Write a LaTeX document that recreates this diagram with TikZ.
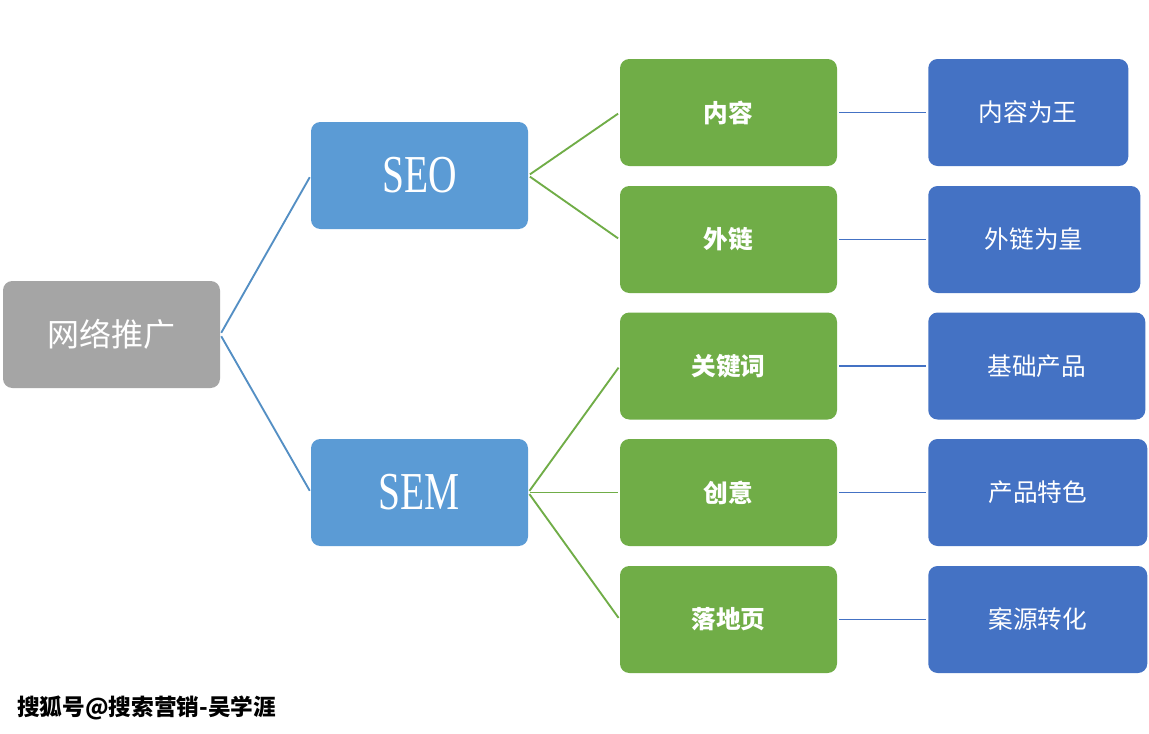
\documentclass[tikz,border=0pt]{standalone}
\usepackage{fontspec}
\setmainfont{Noto Sans CJK SC}
\newfontfamily\seofont[FakeStretch=0.74]{Liberation Serif}
\definecolor{rootgray}{HTML}{A5A5A5}
\definecolor{seoblue}{HTML}{5B9BD5}
\definecolor{itemgreen}{HTML}{70AD47}
\definecolor{noteblue}{HTML}{4472C4}
\begin{document}
\begin{tikzpicture}[x=0.75pt, y=-0.75pt,
    box/.style={rounded corners=7pt, minimum height=80.25pt, text=white, inner sep=0pt},
    rootbox/.style={box, fill=rootgray, minimum width=162.75pt, font=\fontsize{24}{24}\selectfont},
    seobox/.style={box, fill=seoblue, minimum width=162.75pt, font=\seofont\fontsize{40}{40}\selectfont},
    itembox/.style={box, fill=itemgreen, minimum width=162.75pt, font=\bfseries\fontsize{18.5}{18.5}\selectfont},
    notebox/.style={box, fill=noteblue, anchor=west, font=\fontsize{18.5}{18.5}\selectfont},
    link/.style={line width=1.4pt, shorten <=1.5pt, shorten >=1.5pt}]
        % Page
        \useasboundingbox[fill=white] (0,0) rectangle (1149,733);

        % Root
        \node[rootbox] (root) at (111.5,334.5) {网络推广};

        % Channels
        \node[seobox] (seo) at (419.5,175.5) {SEO};
        \node[seobox] (sem) at (419.5,492.5) {SEM};

        % Items
        \node[itembox] (content) at (728.5,112.5) {内容};
        \node[itembox] (links) at (728.5,239.5) {外链};
        \node[itembox] (keywords) at (728.5,366) {关键词};
        \node[itembox] (creative) at (728.5,492.5) {创意};
        \node[itembox] (landing) at (728.5,619.5) {落地页};

        % Notes
        \node[notebox, minimum width=150pt] (contentnote) at (928,112.5) {内容为王};
        \node[notebox, minimum width=159pt] (linksnote) at (928,239.5) {外链为皇};
        \node[notebox, minimum width=162.75pt] (keywordsnote) at (928,366) {基础产品};
        \node[notebox, minimum width=164.25pt] (creativenote) at (928,492.5) {产品特色};
        \node[notebox, minimum width=164.25pt] (landingnote) at (928,619.5) {案源转化};

        % Watermark
        \node[anchor=west, inner sep=0pt, font=\bfseries\fontsize{17}{17}\selectfont] (mark) at (17,708) {搜狐号@搜索营销-吴学涯};

        % Lines
        \draw[link, seoblue!92!black] (root.east) -- (seo.west);
        \draw[link, seoblue!92!black] (root.east) -- (sem.west);
        \draw[link, itemgreen] (seo.east) -- (content.west);
        \draw[link, itemgreen] (seo.east) -- (links.west);
        \draw[link, itemgreen] (sem.east) -- (keywords.west);
        \draw[link, itemgreen] (sem.east) -- (creative.west);
        \draw[link, itemgreen] (sem.east) -- (landing.west);
        \draw[link, noteblue] (content.east) -- (contentnote.west);
        \draw[link, noteblue] (links.east) -- (linksnote.west);
        \draw[link, noteblue] (keywords.east) -- (keywordsnote.west);
        \draw[link, noteblue] (creative.east) -- (creativenote.west);
        \draw[link, noteblue] (landing.east) -- (landingnote.west);
    \end{tikzpicture}
\end{document}
